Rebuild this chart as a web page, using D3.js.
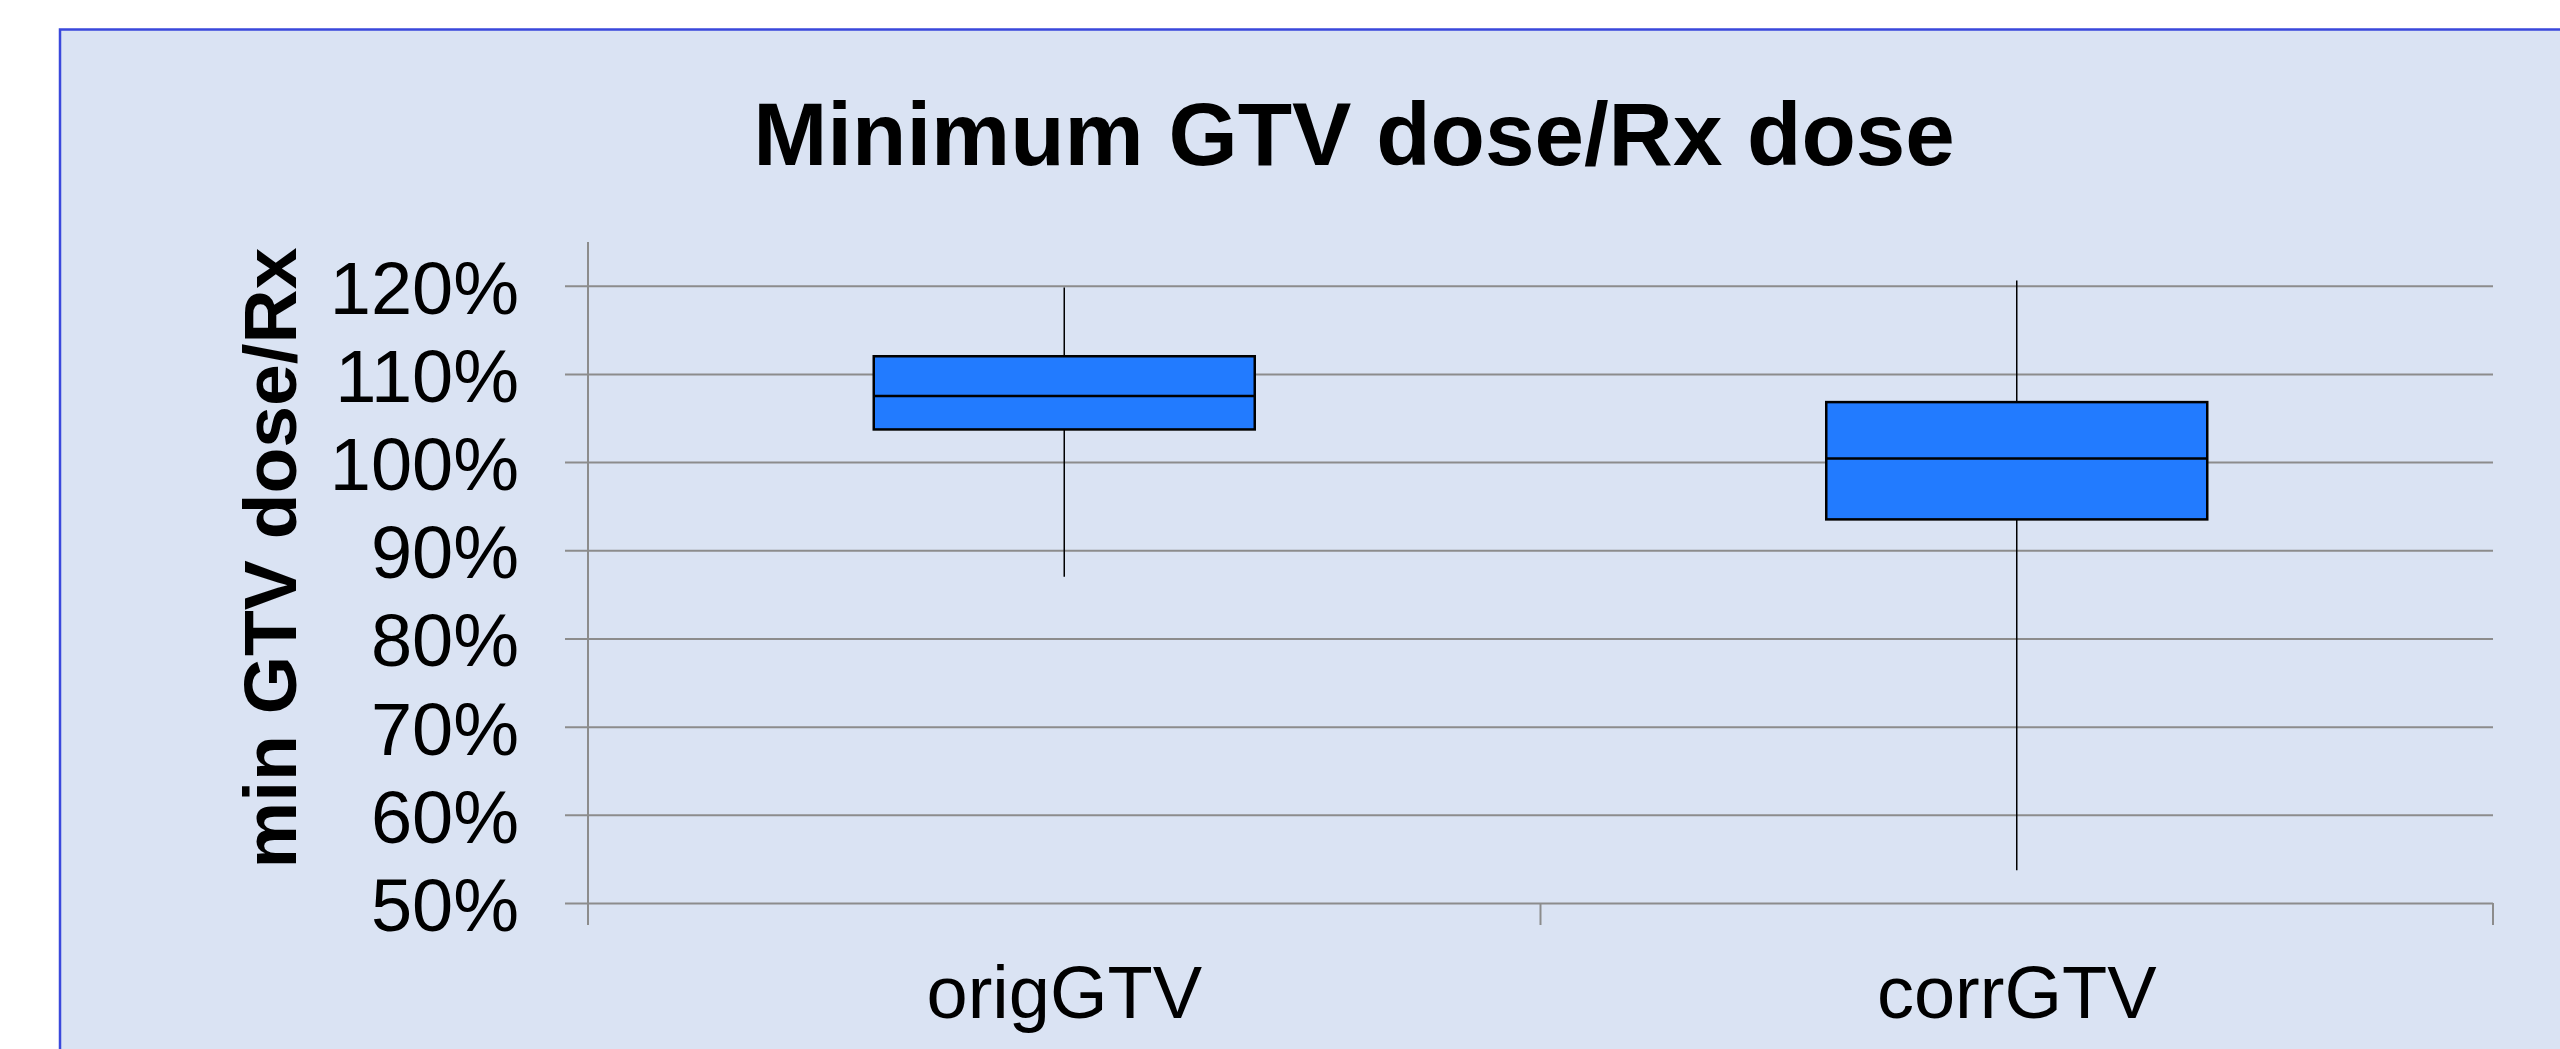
<!DOCTYPE html>
<html>
<head>
<meta charset="utf-8">
<script src="https://cdn.jsdelivr.net/npm/d3@7"></script>
<style>
  body { margin: 0; background: #ffffff; }
  svg { display: block; font-family: "Liberation Sans", Arial, sans-serif; }
</style>
</head>
<body>
<svg id="chart" width="2560" height="1049"></svg>
<script>
// box plot data (fractions of Rx dose)
const categories = ['origGTV', 'corrGTV'];
const whiskerLow = [0.870, 0.537];
const q1 = [1.037, 0.935];
const median = [1.075, 1.004];
const q3 = [1.120, 1.068];
const whiskerHigh = [1.198, 1.206];
const tickValues = [0.5, 0.6, 0.7, 0.8, 0.9, 1.0, 1.1, 1.2];

const svg = d3.select('#chart');

// background panel
svg.append('rect')
    .attr('x', 60)
    .attr('y', 29.5)
    .attr('width', 2600)
    .attr('height', 1100)
    .attr('fill', '#dae3f3')
    .attr('stroke', '#3a48dc')
    .attr('stroke-width', 2.5);

const plotLeft = 588, plotRight = 2493, plotTop = 242, plotBottom = 903;

const y = d3.scaleLinear()
    .domain([0.5, 1.2])
    .range([plotBottom, 285.7]);

const x = d3.scaleBand()
    .domain(categories)
    .range([plotLeft, plotRight])
    .padding(0);

// title
svg.append('text')
    .attr('x', 1354)
    .attr('y', 165)
    .attr('text-anchor', 'middle')
    .attr('font-size', 89)
    .attr('font-weight', 'bold')
    .attr('fill', '#000')
    .text('Minimum GTV dose/Rx dose');

// y axis title
svg.append('text')
    .attr('transform', 'translate(296,558) rotate(-90)')
    .attr('text-anchor', 'middle')
    .attr('font-size', 75)
    .attr('font-weight', 'bold')
    .attr('fill', '#000')
    .text('min GTV dose/Rx');

// y axis with gridlines
const yAxis = svg.append('g')
    .attr('transform', `translate(${plotLeft},0)`)
    .call(d3.axisLeft(y)
        .tickValues(tickValues)
        .tickFormat(d3.format('.0%'))
        .tickSize(0)
        .tickPadding(69));

yAxis.select('.domain').remove();
yAxis.selectAll('.tick line')
    .attr('x1', -23)
    .attr('x2', plotRight - plotLeft)
    .attr('stroke', '#8c8c8c')
    .attr('stroke-width', 2);
yAxis.selectAll('.tick text')
    .attr('font-size', 74)
    .attr('font-family', '"Liberation Sans", Arial, sans-serif')
    .attr('fill', '#000')
    .attr('dy', '0.37em');

// vertical axis line
svg.append('line')
    .attr('x1', plotLeft).attr('x2', plotLeft)
    .attr('y1', plotTop).attr('y2', plotBottom + 22)
    .attr('stroke', '#8c8c8c')
    .attr('stroke-width', 2);

// x axis ticks at band edges
const edges = categories.map(c => x(c) + x.bandwidth());
svg.selectAll('.xtick')
    .data(edges)
    .enter()
    .append('line')
    .attr('x1', d => d).attr('x2', d => d)
    .attr('y1', plotBottom).attr('y2', plotBottom + 22)
    .attr('stroke', '#8c8c8c')
    .attr('stroke-width', 2);

// x labels
svg.selectAll('.xlabel')
    .data(categories)
    .enter()
    .append('text')
    .attr('x', d => x(d) + x.bandwidth() / 2)
    .attr('y', 1018)
    .attr('text-anchor', 'middle')
    .attr('font-size', 74)
    .attr('fill', '#000')
    .text(d => d);

// boxes
const boxW = x.bandwidth() * 0.4;
const boxes = svg.selectAll('.box')
    .data(categories)
    .enter()
    .append('g');

boxes.append('line')
    .attr('x1', d => x(d) + x.bandwidth() / 2)
    .attr('x2', d => x(d) + x.bandwidth() / 2)
    .attr('y1', (d, i) => y(whiskerHigh[i]))
    .attr('y2', (d, i) => y(whiskerLow[i]))
    .attr('stroke', '#000')
    .attr('stroke-width', 1.5);

boxes.append('rect')
    .attr('x', d => x(d) + (x.bandwidth() - boxW) / 2)
    .attr('width', boxW)
    .attr('y', (d, i) => y(q3[i]))
    .attr('height', (d, i) => y(q1[i]) - y(q3[i]))
    .attr('fill', '#227bff')
    .attr('stroke', '#000')
    .attr('stroke-width', 2.5);

boxes.append('line')
    .attr('x1', d => x(d) + (x.bandwidth() - boxW) / 2)
    .attr('x2', d => x(d) + (x.bandwidth() + boxW) / 2)
    .attr('y1', (d, i) => y(median[i]))
    .attr('y2', (d, i) => y(median[i]))
    .attr('stroke', '#000')
    .attr('stroke-width', 2.5);
</script>
</body>
</html>
